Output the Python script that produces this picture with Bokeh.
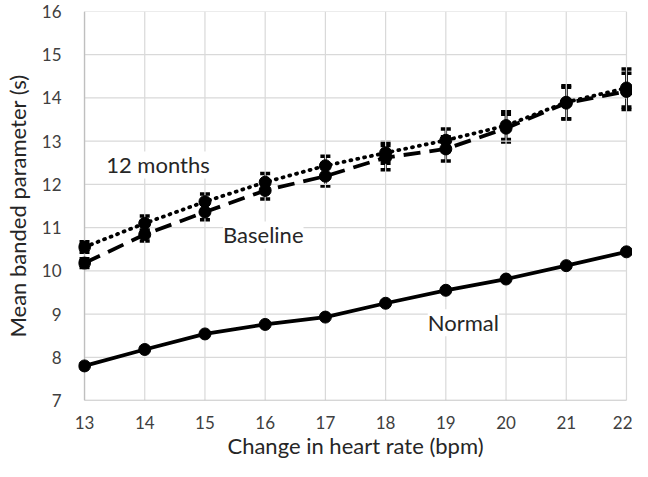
from bokeh.plotting import figure
from bokeh.models import Range1d, Label, Whisker, ColumnDataSource, TeeHead, FixedTicker
from bokeh.embed import file_html
from bokeh.resources import INLINE

# ---- data ----
hr = [13, 14, 15, 16, 17, 18, 19, 20, 21, 22]
normal = [7.80, 8.18, 8.54, 8.76, 8.93, 9.25, 9.55, 9.81, 10.12, 10.44]
months12 = [10.55, 11.10, 11.60, 12.05, 12.43, 12.73, 13.02, 13.36, 13.90, 14.23]
months12_err = [0.12, 0.17, 0.18, 0.20, 0.22, 0.24, 0.26, 0.32, 0.38, 0.44]
baseline = [10.18, 10.84, 11.36, 11.86, 12.19, 12.62, 12.82, 13.30, 13.88, 14.15]
baseline_err = [0.10, 0.15, 0.18, 0.20, 0.23, 0.28, 0.28, 0.32, 0.37, 0.42]
x_ticks = [13, 14, 15, 16, 17, 18, 19, 20, 21, 22]
y_ticks = [7, 8, 9, 10, 11, 12, 13, 14, 15, 16]

FONT = "Lato"
GRID = "#d9d9d9"
INK = "black"

p = figure(width=632, height=461, output_backend="svg", toolbar_location=None,
           x_range=Range1d(12.9, 22.1), y_range=Range1d(7, 16),
           min_border_left=70, min_border_right=0, min_border_top=11, min_border_bottom=50)
p.outline_line_color = None
p.xgrid.visible = False
p.ygrid.visible = False

# custom grid, limited to the 13..22 / 7..16 box
p.segment(x0=x_ticks, x1=x_ticks, y0=[min(y_ticks)] * len(x_ticks), y1=[max(y_ticks)] * len(x_ticks),
          line_color=GRID, line_width=1.2)
p.segment(x0=[min(x_ticks)] * len(y_ticks), x1=[max(x_ticks)] * len(y_ticks), y0=y_ticks, y1=y_ticks,
          line_color=GRID, line_width=1.2)
p.segment(x0=[min(x_ticks)], x1=[min(x_ticks)], y0=[min(y_ticks)], y1=[max(y_ticks)],
          line_color="#bfbfbf", line_width=1.3)
p.segment(x0=[min(x_ticks)], x1=[max(x_ticks)], y0=[min(y_ticks)], y1=[min(y_ticks)],
          line_color="#bfbfbf", line_width=1.3)

for ax in (p.xaxis[0], p.yaxis[0]):
    ax.axis_line_color = None
    ax.major_tick_line_color = None
    ax.minor_tick_line_color = None
    ax.major_label_text_font = FONT
    ax.major_label_text_font_size = "17px"
    ax.major_label_text_color = "#404040"
    ax.axis_label_text_font = FONT
    ax.axis_label_text_font_size = "22px"
    ax.axis_label_text_font_style = "normal"
    ax.axis_label_text_color = "#262626"

p.xaxis.ticker = FixedTicker(ticks=x_ticks)
p.yaxis.ticker = FixedTicker(ticks=y_ticks)
p.xaxis.axis_label = "Change in heart rate (bpm)"
p.yaxis.axis_label = "Mean banded parameter (s)"
p.xaxis.major_label_standoff = 9
p.xaxis.axis_label_standoff = 0
p.yaxis.major_label_standoff = 11
p.yaxis.axis_label_standoff = 8

# error bars
for vals, errs in ((months12, months12_err), (baseline, baseline_err)):
    src = ColumnDataSource(dict(x=hr,
                                lo=[v - e for v, e in zip(vals, errs)],
                                hi=[v + e for v, e in zip(vals, errs)]))
    w = Whisker(source=src, base="x", lower="lo", upper="hi", dimension="height",
                line_color=INK, line_width=2.5,
                lower_head=TeeHead(size=10, line_width=3.5, line_color=INK),
                upper_head=TeeHead(size=10, line_width=3.5, line_color=INK))
    p.add_layout(w)

# lines
p.line(hr, normal, line_color=INK, line_width=3.8)
p.scatter(hr, normal, size=12, color=INK)

p.line(hr, months12, line_color=INK, line_width=3.8, line_dash="1 6", line_cap="round")
p.scatter(hr, months12, size=12, color=INK)

p.line(hr, baseline, line_color=INK, line_width=3.8, line_dash="17 9")
p.scatter(hr, baseline, size=12, color=INK)

# series labels
for txt, x, y in (("12 months", 13.36, 12.45), ("Baseline", 15.3, 10.83), ("Normal", 18.7, 8.8)):
    p.add_layout(Label(x=x, y=y, text=txt, text_font=FONT, text_font_size="22px",
                       text_color="#262626", text_baseline="middle",
                       background_fill_color="white", background_fill_alpha=1.0))

open("out.html", "w").write(file_html(p, INLINE))
